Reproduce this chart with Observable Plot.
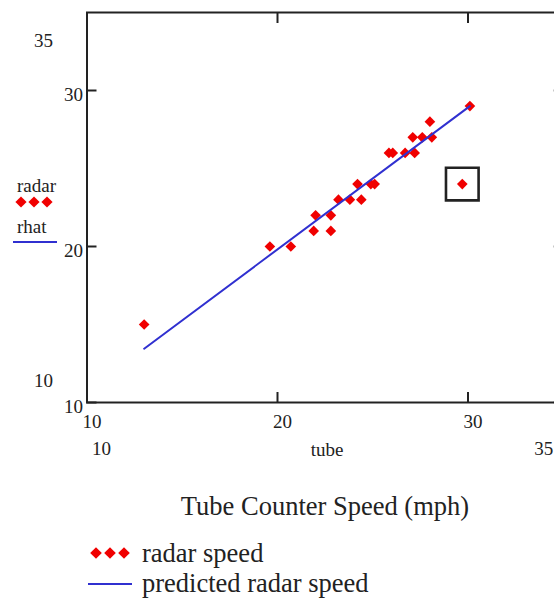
<!DOCTYPE html>
<html><head><meta charset="utf-8">
<script src="https://cdn.jsdelivr.net/npm/d3@7"></script>
<script src="https://cdn.jsdelivr.net/npm/@observablehq/plot@0.6"></script>
<style>
html,body{margin:0;padding:0;background:#fff;overflow:hidden}
#wrap{position:relative;width:554px;height:601px;overflow:hidden;font-family:"Liberation Serif","Times New Roman",serif;color:#222}
#chart{position:absolute;left:0;top:0;width:600px}
#chart svg{max-width:none !important;width:600px;height:470px}
#overlay{position:absolute;left:0;top:0}
</style></head><body>
<div id="wrap"><div id="chart"></div><svg id="overlay" width="554" height="601"></svg></div>
<script>
// ---- data ----
const tube  = [13.0, 19.6, 20.7, 21.9, 22.8, 22.0, 22.8, 23.2, 23.8, 24.4, 24.2, 24.9, 25.1, 25.85, 26.05, 26.7, 27.2, 27.1, 27.6, 28.1, 28.0, 30.1, 29.7];
const radar = [15, 20, 20, 21, 21, 22, 22, 23, 23, 23, 24, 24, 24, 26, 26, 26, 26, 27, 27, 27, 28, 29, 24];
const fitTube = [13.0, 30.1];
const rhat    = [13.45, 29.0];
const outlierTube = [29.7];
const outlierRadar = [24];
const xTicks = [10, 20, 30];
const yTicks = [10, 20, 30];
const xLimits = [10, 35];
const yLimits = [10, 35];
const xName = "tube";
const yName = "radar";
const fitName = "rhat";
const axisTitle = "Tube Counter Speed (mph)";
const legendLabels = ["radar speed", "predicted radar speed"];

const RED = "#f00000", BLUE = "#3030d0", INK = "#222";

const points = tube.map((t, i) => ({tube: t, radar: radar[i]}));
const fit = fitTube.map((t, i) => ({tube: t, rhat: rhat[i]}));
const outlier = outlierTube.map((t, i) => ({tube: t, radar: outlierRadar[i]}));

const chart = Plot.plot({
  width: 600, height: 470,
  marginLeft: 86.5, marginRight: 37.25, marginTop: 12, marginBottom: 68,
  x: {domain: xLimits, label: null},
  y: {domain: yLimits, label: null},
  style: {fontFamily: "'Liberation Serif', 'Times New Roman', serif", fontSize: "19px", color: INK, background: "transparent", overflow: "visible", maxWidth: "none"},
  marks: [
    Plot.frame({stroke: INK, strokeWidth: 2}),
    // inward ticks on all four sides
    Plot.axisX({anchor: "bottom", ticks: xTicks, tickSize: -10, strokeWidth: 2, stroke: INK, tickFormat: () => ""}),
    Plot.axisX({anchor: "top", ticks: xTicks, tickSize: -10, strokeWidth: 2, stroke: INK, tickFormat: () => ""}),
    Plot.axisY({anchor: "left", ticks: yTicks, tickSize: -10, strokeWidth: 2, stroke: INK, tickFormat: () => ""}),
    Plot.axisY({anchor: "right", ticks: yTicks, tickSize: -10, strokeWidth: 2, stroke: INK, tickFormat: () => ""}),
    // tick labels
    Plot.axisX({anchor: "bottom", ticks: xTicks, tickSize: 0, tickPadding: 12, dx: 5, fill: INK}),
    Plot.axisY({anchor: "left", ticks: yTicks, tickSize: 0, tickPadding: 4, dy: 4, fill: INK}),
    // axis limit labels
    Plot.text([yLimits[1]], {y: d => d, text: d => String(d), frameAnchor: "left", textAnchor: "end", dx: -34, dy: 28, fill: INK}),
    Plot.text([yLimits[0]], {y: d => d, text: d => String(d), frameAnchor: "left", textAnchor: "end", dx: -34, dy: -22, fill: INK}),
    Plot.text([xLimits[0]], {x: d => d, text: d => String(d), frameAnchor: "bottom", textAnchor: "start", dx: 5, dy: 52, fill: INK}),
    Plot.text([xLimits[1]], {x: d => d, text: d => String(d), frameAnchor: "bottom", textAnchor: "end", dx: -10, dy: 52, fill: INK}),
    Plot.text([xName], {text: d => d, frameAnchor: "bottom", dx: 2, dy: 53, fill: INK}),
    // data
    Plot.dot(points, {x: "tube", y: "radar", symbol: "diamond2", r: 4.8, fill: RED, stroke: "none"}),
    Plot.line(fit, {x: "tube", y: "rhat", stroke: BLUE, strokeWidth: 2}),
    Plot.dot(outlier, {x: "tube", y: "radar", symbol: "square", r: 18.4, fill: "none", stroke: INK, strokeWidth: 2.6})
  ]
});
document.getElementById("chart").appendChild(chart);

// ---- legends / captions ----
const ov = d3.select("#overlay");
const serif = "'Liberation Serif', 'Times New Roman', serif";
function diamond(g, cx, cy, h) {
  g.append("polygon").attr("points", `${cx},${cy-h} ${cx+h},${cy} ${cx},${cy+h} ${cx-h},${cy}`).attr("fill", RED);
}
// left trace legend
ov.append("text").attr("x", 17).attr("y", 192).attr("font-family", serif).attr("font-size", 19).attr("fill", INK).text(yName);
[21, 34, 47].forEach(cx => diamond(ov, cx, 202, 5.6));
ov.append("text").attr("x", 17).attr("y", 233).attr("font-family", serif).attr("font-size", 19).attr("fill", INK).text(fitName);
ov.append("line").attr("x1", 13).attr("x2", 57).attr("y1", 242).attr("y2", 242).attr("stroke", BLUE).attr("stroke-width", 2);
// title under axis
ov.append("text").attr("x", 325).attr("y", 515).attr("text-anchor", "middle").attr("font-family", serif).attr("font-size", 26.5).attr("fill", INK).text(axisTitle);
// bottom legend
[96, 110, 124].forEach(cx => diamond(ov, cx, 553, 5.8));
ov.append("text").attr("x", 142).attr("y", 562).attr("font-family", serif).attr("font-size", 26.5).attr("fill", INK).text(legendLabels[0]);
ov.append("line").attr("x1", 88).attr("x2", 132).attr("y1", 584).attr("y2", 584).attr("stroke", BLUE).attr("stroke-width", 2);
ov.append("text").attr("x", 142).attr("y", 592).attr("font-family", serif).attr("font-size", 26.5).attr("fill", INK).text(legendLabels[1]);
</script>
</body></html>
